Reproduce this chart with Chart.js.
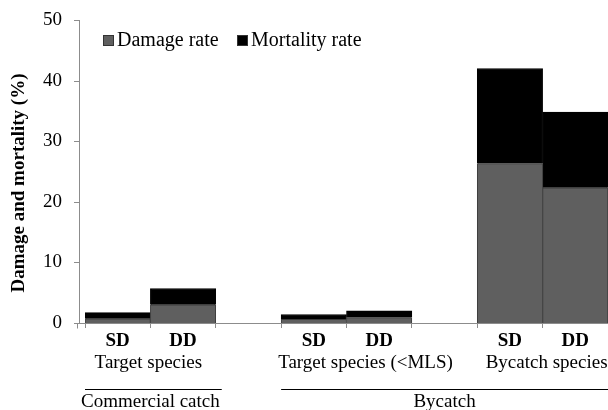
<!DOCTYPE html>
<html>
<head>
<meta charset="utf-8">
<script src="https://cdn.jsdelivr.net/npm/chart.js@4"></script>
<style>
  html, body { margin: 0; padding: 0; background: #fff; }
  #wrap { width: 608px; height: 410px; }
</style>
</head>
<body>
<div id="wrap"><canvas id="barChart" width="608" height="410"></canvas></div>
<script>
'use strict';

// data
const categories = ['SD', 'DD', '', 'SD', 'DD', '', 'SD', 'DD'];
const damageRate = [0.7, 3.0, null, 0.6, 0.9, null, 26.3, 22.3];
const mortalityRate = [1.0, 2.7, null, 0.8, 1.1, null, 15.7, 12.5];
const yTicks = [0, 10, 20, 30, 40, 50];
const groupLabels = ['Target species', 'Target species (<MLS)', 'Bycatch species'];
const groupSpans = [[0, 1], [3, 4], [6, 7]];
const catchLabels = ['Commercial catch', 'Bycatch'];
const catchSpans = [[0, 1], [3, 7]];

const serif = "'Liberation Serif', 'Times New Roman', serif";
const axisGrey = '#8c8c8c';

// axis line, group labels, legend
const decorations = {
    id: 'decorations',
    afterDraw(chart) {
        const c = chart.ctx;
        const x = chart.scales.x;
        const y = chart.scales.y;
        const area = chart.chartArea;
        const axisX = area.left - 6;
        const half = (x.getPixelForValue(1) - x.getPixelForValue(0)) / 2;

        c.save();
        c.strokeStyle = axisGrey;
        c.lineWidth = 1;
        c.beginPath();
        c.moveTo(axisX + 0.5, y.getPixelForValue(50));
        c.lineTo(axisX + 0.5, y.getPixelForValue(0));
        yTicks.forEach(function(v) {
            const py = Math.round(y.getPixelForValue(v)) + 0.5;
            c.moveTo(axisX - 5, py);
            c.lineTo(axisX, py);
        });
        const zero = Math.round(y.getPixelForValue(0)) + 0.5;
        c.moveTo(axisX - 5, zero);
        c.lineTo(area.right, zero);
        c.moveTo(axisX - 2 + 0.5, zero);
        c.lineTo(axisX - 2 + 0.5, zero + 5);
        c.stroke();

        // y axis title
        c.fillStyle = '#000';
        c.font = 'bold 19px ' + serif;
        c.textAlign = 'center';
        c.textBaseline = 'middle';
        c.translate(19, 183);
        c.rotate(-Math.PI / 2);
        c.fillText('Damage and mortality (%)', 0, 0);
        c.setTransform(1, 0, 0, 1, 0, 0);

        // group labels under the SD/DD ticks
        c.font = '19px ' + serif;
        const groupShift = [-2, 19, 4];
        groupLabels.forEach(function(lab, i) {
            const a = x.getPixelForValue(groupSpans[i][0]) - half;
            const b = x.getPixelForValue(groupSpans[i][1]) + half;
            c.fillText(lab, (a + b) / 2 + groupShift[i], 363);
        });

        // catch type lines and labels
        c.strokeStyle = '#000';
        c.beginPath();
        catchLabels.forEach(function(lab, i) {
            const a = x.getPixelForValue(catchSpans[i][0]) - half;
            const b = x.getPixelForValue(catchSpans[i][1]) + half;
            c.moveTo(a, 389.5);
            c.lineTo(Math.min(b + 6, area.right), 389.5);
            c.fillText(lab, (a + b) / 2 + (i === 0 ? 0 : 0), 402);
        });
        c.stroke();

        // legend
        const items = [
            { text: 'Damage rate', color: '#5f5f5f', x: 103 },
            { text: 'Mortality rate', color: '#000000', x: 237 }
        ];
        c.font = '20px ' + serif;
        c.textAlign = 'left';
        items.forEach(function(it) {
            c.fillStyle = it.color;
            c.fillRect(it.x, 35, 11, 11);
            c.strokeStyle = '#333';
            c.strokeRect(it.x + 0.5, 35.5, 10, 10);
            c.fillStyle = '#000';
            c.fillText(it.text, it.x + 14, 41);
        });
        c.restore();
    }
};

const ctx = document.getElementById('barChart');

new Chart(ctx, {
    type: 'bar',
    data: {
        labels: categories,
        datasets: [{
            label: 'Damage rate',
            data: damageRate,
            backgroundColor: '#5f5f5f',
            borderColor: '#3c3c3c',
            borderWidth: 1
        }, {
            label: 'Mortality rate',
            data: mortalityRate,
            backgroundColor: '#000000',
            borderColor: '#000000',
            borderWidth: 1
        }]
    },
    options: {
        responsive: false,
        animation: false,
        layout: { padding: { top: 20, right: 0, left: 0, bottom: 0 } },
        datasets: {
            bar: { categoryPercentage: 1.0, barPercentage: 1.0 }
        },
        scales: {
            x: {
                stacked: true,
                offset: true,
                border: { display: false },
                grid: {
                    offset: true,
                    drawOnChartArea: false,
                    tickLength: 5,
                    color: axisGrey
                },
                ticks: {
                    color: '#000',
                    padding: 2,
                    maxRotation: 0,
                    font: { family: serif, size: 19, weight: 'bold' }
                },
                afterFit: function(scale) { scale.height = 87; }
            },
            y: {
                stacked: true,
                min: 0,
                max: 50,
                border: { display: false },
                grid: { display: false, drawTicks: false },
                ticks: {
                    stepSize: 10,
                    color: '#000',
                    padding: 23,
                    font: { family: serif, size: 19 }
                },
                afterFit: function(scale) {
                    scale.width = 85;
                    scale.paddingTop = 0;
                    scale.paddingBottom = 0;
                }
            }
        },
        plugins: {
            legend: { display: false },
            tooltip: { enabled: false }
        }
    },
    plugins: [decorations]
});
</script>
</body>
</html>
